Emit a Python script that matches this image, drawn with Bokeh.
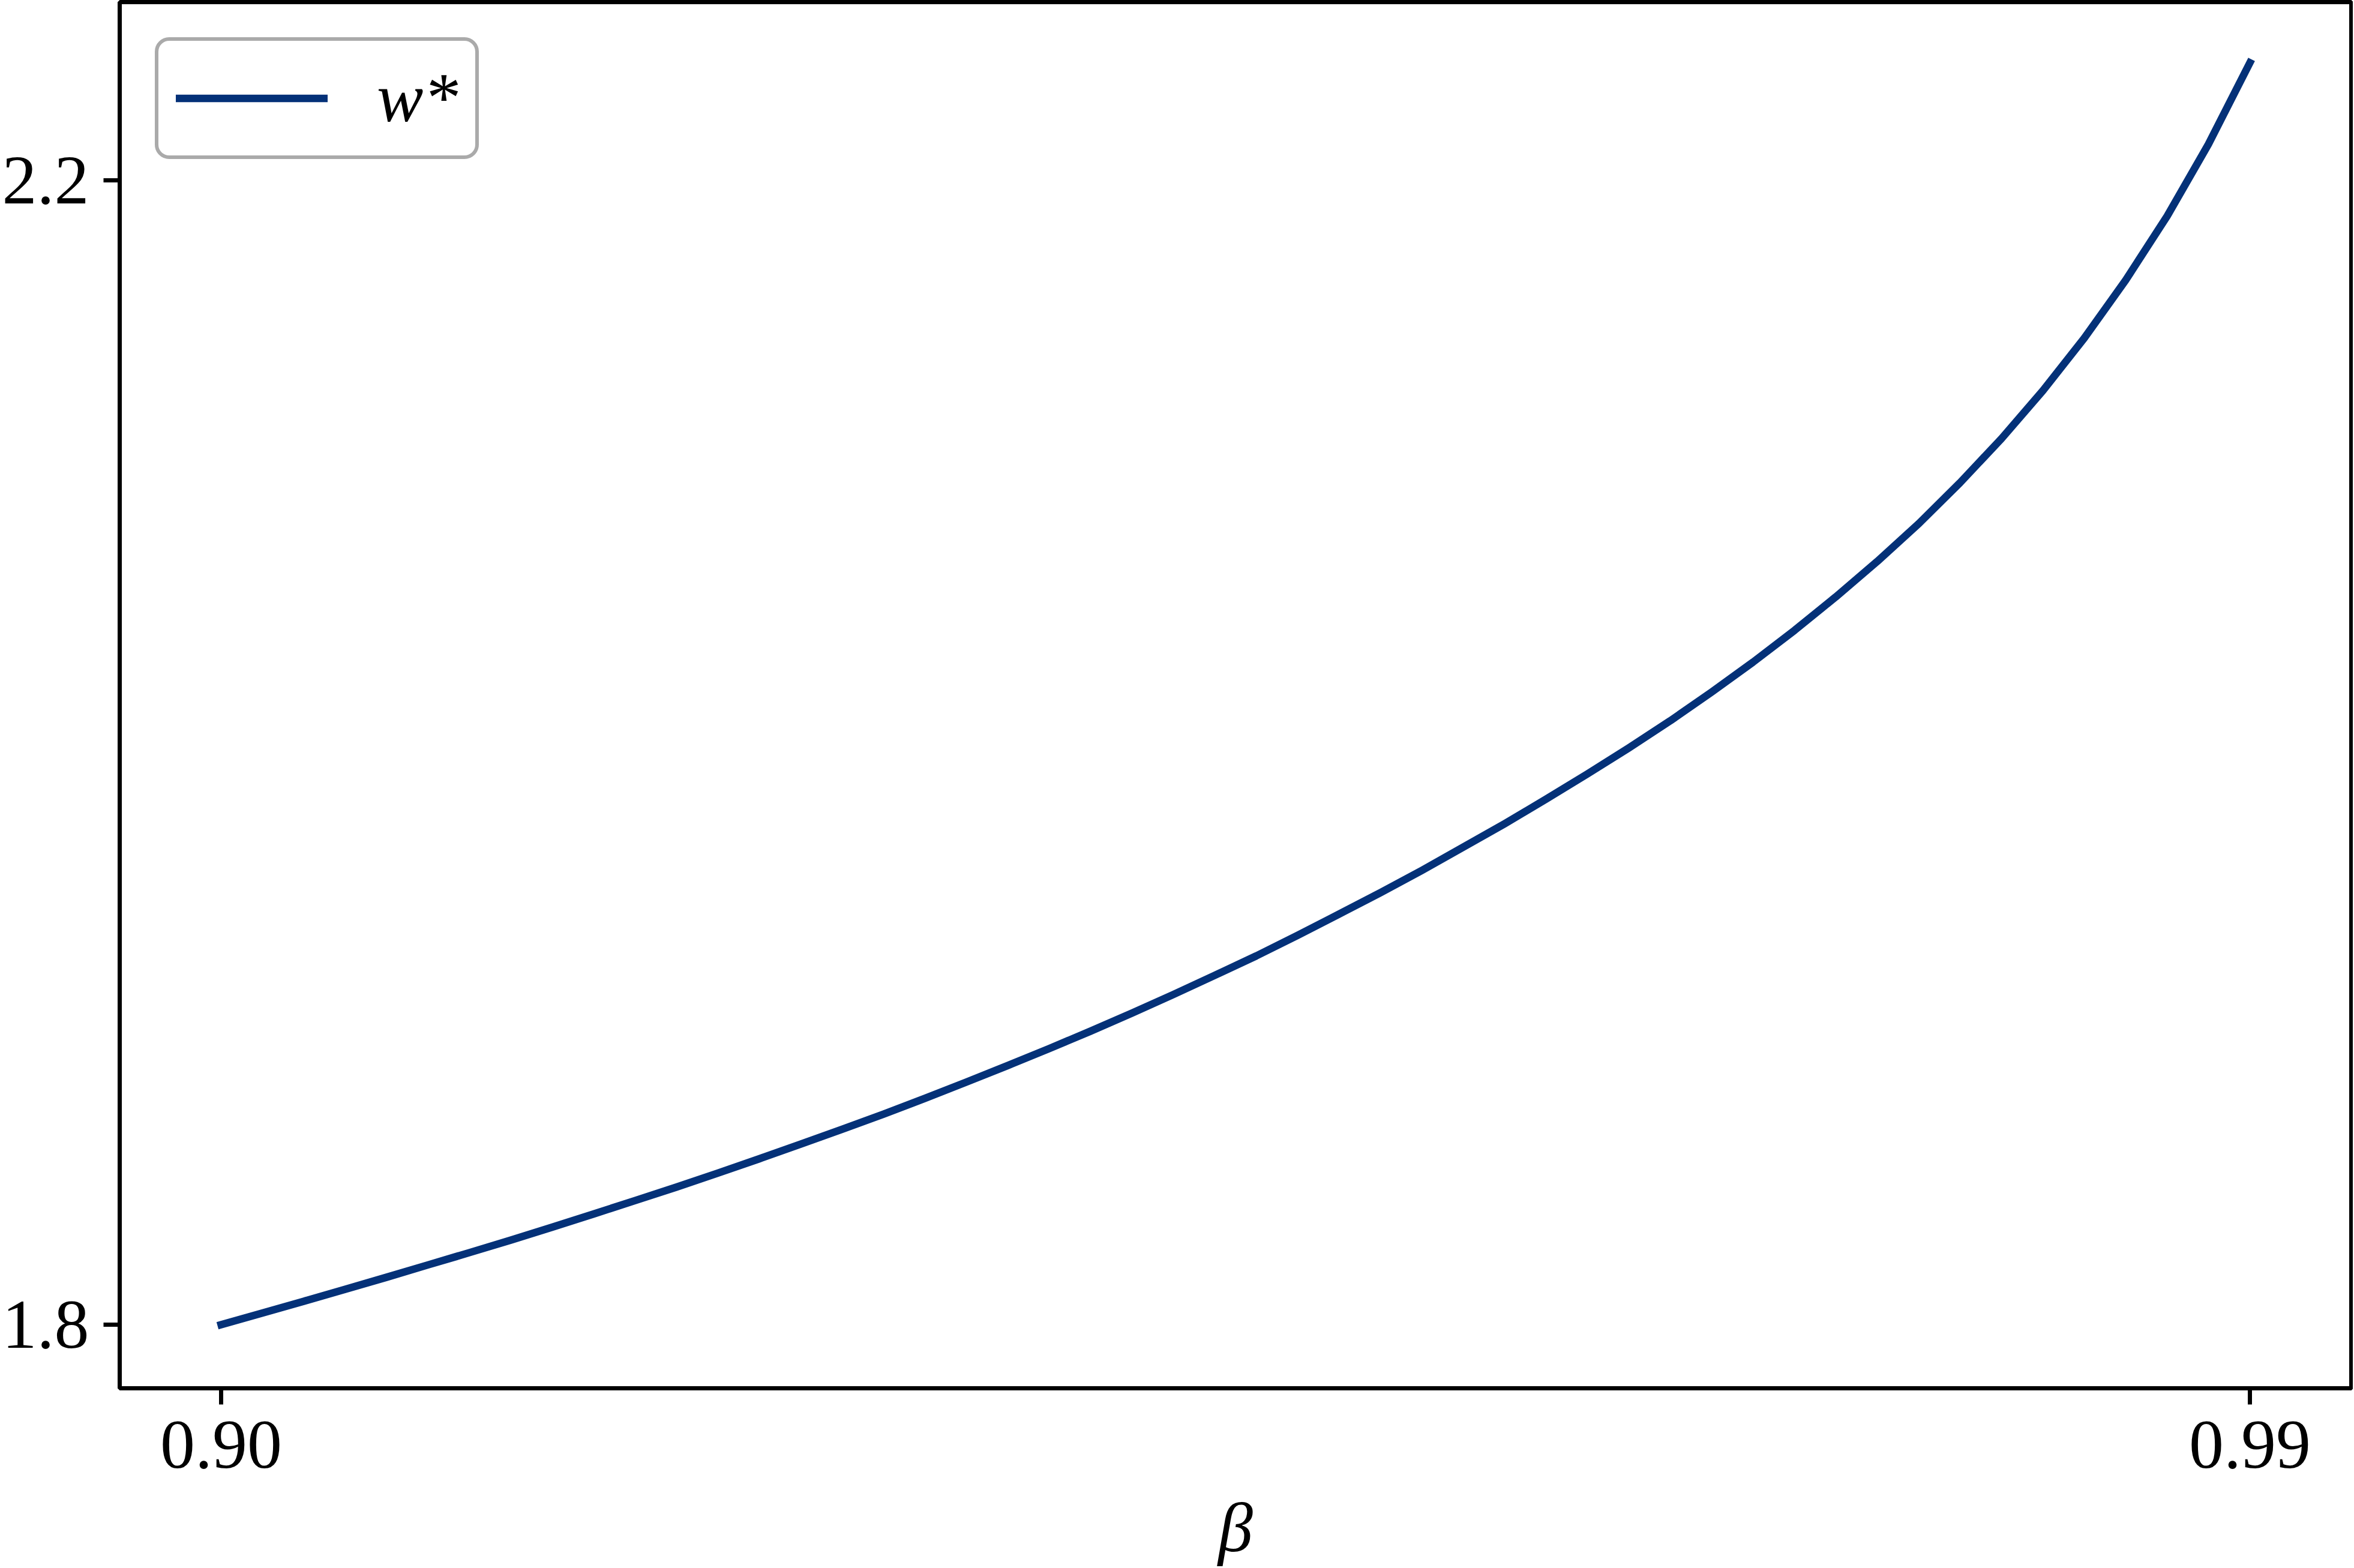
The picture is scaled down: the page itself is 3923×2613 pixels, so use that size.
from bokeh.plotting import figure
from bokeh.models import Range1d, FixedTicker, Legend
from bokeh.embed import file_html
from bokeh.resources import INLINE

# ---- data ----
beta = [0.90000, 0.90184, 0.90367, 0.90551, 0.90735, 0.90918, 0.91102, 0.91286, 0.91469, 0.91653,
        0.91837, 0.92020, 0.92204, 0.92388, 0.92571, 0.92755, 0.92939, 0.93122, 0.93306, 0.93490,
        0.93673, 0.93857, 0.94041, 0.94224, 0.94408, 0.94592, 0.94776, 0.94959, 0.95143, 0.95327,
        0.95510, 0.95694, 0.95878, 0.96061, 0.96245, 0.96429, 0.96612, 0.96796, 0.96980, 0.97163,
        0.97347, 0.97531, 0.97714, 0.97898, 0.98082, 0.98265, 0.98449, 0.98633, 0.98816, 0.99000]

w_star = [1.8000, 1.8041, 1.8082, 1.8124, 1.8166, 1.8209, 1.8252, 1.8296, 1.8341, 1.8387,
          1.8434, 1.8481, 1.8530, 1.8580, 1.8631, 1.8683, 1.8736, 1.8791, 1.8848, 1.8906,
          1.8965, 1.9026, 1.9089, 1.9154, 1.9221, 1.9289, 1.9361, 1.9435, 1.9510, 1.9588,
          1.9669, 1.9751, 1.9837, 1.9925, 2.0016, 2.0111, 2.0211, 2.0316, 2.0427, 2.0544,
          2.0668, 2.0800, 2.0943, 2.1097, 2.1265, 2.1448, 2.1651, 2.1875, 2.2126, 2.2411]

x_ticks = [0.90, 0.99]
x_tick_labels = ["0.90", "0.99"]
y_ticks = [1.8, 2.2]
y_tick_labels = ["1.8", "2.2"]
legend_text = "w*"
x_label = "β"

# ---- styling ----
FONT = "Liberation Serif"
FS = "116px"
LINE_COLOR = "#043178"

p = figure(width=3921, height=2613, output_backend="svg", toolbar_location=None,
           x_range=Range1d(0.895501, 0.994499), y_range=Range1d(1.77777, 2.26230),
           min_border_left=199, min_border_right=3, min_border_top=3, min_border_bottom=300)

p.line(beta, w_star, line_color=LINE_COLOR, line_width=12.5, line_join="round",
       line_cap="square", legend_label=legend_text)

p.background_fill_color = "white"
p.border_fill_color = "white"
p.outline_line_color = "black"
p.outline_line_width = 7
p.outline_line_alpha = 1.0
p.xgrid.visible = False
p.ygrid.visible = False

for ax in (p.xaxis[0], p.yaxis[0]):
    ax.major_tick_out = 27
    ax.major_tick_in = 0
    ax.minor_tick_out = 0
    ax.minor_tick_in = 0
    ax.major_tick_line_width = 7
    ax.major_tick_line_color = "black"
    ax.axis_line_width = 7
    ax.axis_line_color = "black"
    ax.major_label_text_font = FONT
    ax.major_label_text_font_size = FS
    ax.major_label_text_color = "black"

p.xaxis.ticker = FixedTicker(ticks=x_ticks)
p.xaxis.major_label_overrides = {t: s for t, s in zip(x_ticks, x_tick_labels)}
p.yaxis.ticker = FixedTicker(ticks=y_ticks)
p.yaxis.major_label_overrides = {t: s for t, s in zip(y_ticks, y_tick_labels)}
p.xaxis.major_label_standoff = 28
p.yaxis.major_label_standoff = 24

p.xaxis.axis_label = x_label
p.xaxis.axis_label_text_font = FONT
p.xaxis.axis_label_text_font_size = FS
p.xaxis.axis_label_text_font_style = "italic"
p.xaxis.axis_label_text_color = "black"
p.xaxis.axis_label_standoff = 33

lg = p.legend[0]
lg.location = "top_left"
lg.margin = 59
lg.padding = 29
lg.spacing = 0
lg.glyph_width = 253
lg.glyph_height = 105
lg.label_height = 128
lg.label_standoff = 82
lg.label_text_font = FONT
lg.label_text_font_size = FS
lg.label_text_font_style = "italic"
lg.label_text_color = "black"
lg.border_line_color = "#aaaaaa"
lg.border_line_width = 6
lg.border_line_alpha = 1.0
lg.background_fill_color = "white"
lg.background_fill_alpha = 1.0
if "border_radius" in Legend.properties():
    lg.border_radius = 24

open("out.html", "w").write(file_html(p, INLINE))
